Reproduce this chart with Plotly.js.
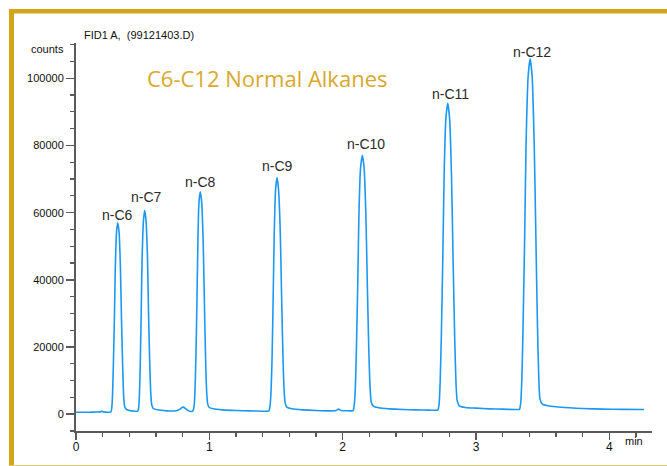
<!DOCTYPE html>
<html>
<head>
<meta charset="utf-8">
<script src="https://cdn.plot.ly/plotly-3.0.1.min.js"></script>
<style>
html,body{margin:0;padding:0;background:#fff;}
#chart{width:667px;height:466px;}
</style>
</head>
<body>
<div id="chart"></div>
<script>
// Retention time (min) and detector response (counts)
const timeMin = [
  0.000, 0.100, 0.150, 0.185, 0.195, 0.205, 0.250, 0.262,
  0.268, 0.274, 0.280, 0.288, 0.295, 0.304, 0.313, 0.323, 0.333, 0.341, 0.350, 0.357, 0.364, 0.375,
  0.400, 0.440, 0.460,
  0.465, 0.470, 0.476, 0.482, 0.489, 0.496, 0.506, 0.515, 0.525, 0.536, 0.544, 0.553, 0.561, 0.568, 0.580,
  0.610, 0.680, 0.750, 0.780, 0.795, 0.805, 0.820, 0.845, 0.860, 0.875,
  0.880, 0.886, 0.892, 0.899, 0.907, 0.914, 0.922, 0.932, 0.943, 0.954, 0.963, 0.972, 0.980, 0.988, 1.000,
  1.030, 1.100, 1.200, 1.300, 1.400, 1.445,
  1.450, 1.456, 1.463, 1.471, 1.479, 1.487, 1.497, 1.508, 1.519, 1.532, 1.542, 1.552, 1.561, 1.569, 1.582,
  1.620, 1.700, 1.800, 1.900, 1.950, 1.970, 1.990, 2.050, 2.075,
  2.080, 2.087, 2.095, 2.103, 2.113, 2.122, 2.134, 2.148, 2.161, 2.174, 2.185, 2.196, 2.206, 2.215, 2.230,
  2.270, 2.350, 2.450, 2.550, 2.650, 2.710,
  2.715, 2.723, 2.731, 2.740, 2.751, 2.761, 2.774, 2.788, 2.802, 2.816, 2.828, 2.840, 2.850, 2.859, 2.875,
  2.920, 3.000, 3.100, 3.200, 3.290, 3.320,
  3.326, 3.335, 3.344, 3.353, 3.365, 3.376, 3.391, 3.406, 3.421, 3.436, 3.449, 3.461, 3.471, 3.480, 3.497,
  3.530, 3.600, 3.700, 3.800, 3.950, 4.100, 4.260
];
const counts = [
  600, 600, 650, 700, 850, 700, 600, 650,
  1700, 5700, 14300, 28500, 43900, 54200, 57000, 54200, 43900, 28500, 14300, 5700, 2500, 1500,
  1100, 900, 900,
  1000, 1900, 6100, 15200, 30400, 46700, 57700, 60700, 57700, 46700, 30400, 15200, 6100, 2800, 1700,
  1300, 1000, 1000, 1500, 2000, 2100, 1700, 1000, 800, 900,
  1300, 2500, 6600, 16600, 33100, 51000, 62900, 66200, 62900, 51000, 33100, 16600, 6600, 3000, 2000,
  1600, 1300, 1100, 1000, 900, 900,
  1300, 2800, 7000, 17600, 35200, 54300, 66900, 70450, 66900, 54300, 35200, 17600, 7000, 3300, 2100,
  1600, 1300, 1100, 1000, 1100, 1500, 1100, 1000, 1000,
  1200, 2800, 7700, 19300, 38500, 59300, 73200, 77060, 73200, 59300, 38500, 19300, 7700, 3500, 2400,
  1900, 1600, 1400, 1300, 1200, 1200,
  1300, 3000, 9300, 23100, 46300, 71300, 88000, 92580, 88000, 71300, 46300, 23100, 9300, 4000, 2500,
  2000, 1800, 1600, 1500, 1400, 1400,
  1400, 3200, 10600, 26400, 52900, 81400, 100500, 105760, 100500, 81400, 52900, 26400, 10600, 4500, 3000,
  2600, 2200, 1900, 1700, 1500, 1450, 1400
];

// Peak labels
const peakNames = ["n-C6", "n-C7", "n-C8", "n-C9", "n-C10", "n-C11", "n-C12"];
const peakLabelTime = [0.312, 0.528, 0.936, 1.512, 2.175, 2.806, 3.419];
const peakLabelCounts = [59300, 64700, 69050, 73900, 80500, 95250, 107700];

const xTickVals = [0, 1, 2, 3, 4];
const yTickVals = [0, 20000, 40000, 60000, 80000, 100000];

const chartTitle = "C6-C12 Normal Alkanes";
const fileTitle = "FID1 A,  (99121403.D)";

// ---- layout geometry (pixels) ----
const W = 667, H = 466;
const M = {l: 76, r: 15, t: 43, b: 35};
const plotW = W - M.l - M.r, plotH = H - M.t - M.b;
const px2x = p => (p - M.l) / plotW;
const py2y = p => (H - M.b - p) / plotH;

const gold = "#D4A419";
const axisColor = "#5a5a5a";

const annotations = peakNames.map((n, i) => ({
  x: peakLabelTime[i], y: peakLabelCounts[i], xref: "x", yref: "y",
  text: n, showarrow: false, xanchor: "center", yanchor: "middle",
  font: {family: "Liberation Sans, Arial, sans-serif", size: 14, color: "#2a2a2a"}
}));
annotations.push({
  x: 1.43, y: 100000, xref: "x", yref: "y", text: chartTitle, showarrow: false,
  xanchor: "center", yanchor: "middle",
  font: {family: "Open Sans, sans-serif", size: 22, color: "#D9A82C"}
});
annotations.push({
  x: px2x(66), y: py2y(49), xref: "paper", yref: "paper", text: "counts", showarrow: false,
  xanchor: "right", yanchor: "middle",
  font: {family: "Liberation Sans, Arial, sans-serif", size: 11, color: "#111"}
});
annotations.push({
  x: px2x(634), y: py2y(441), xref: "paper", yref: "paper", text: "min", showarrow: false,
  xanchor: "center", yanchor: "middle",
  font: {family: "Liberation Sans, Arial, sans-serif", size: 11, color: "#111"}
});

const shapes = [
  {type: "rect", xref: "paper", yref: "paper", x0: px2x(9), x1: px2x(W + 2), y0: py2y(9), y1: py2y(13.5),
   fillcolor: gold, line: {width: 0}},
  {type: "rect", xref: "paper", yref: "paper", x0: px2x(9), x1: px2x(14), y0: py2y(9), y1: py2y(466),
   fillcolor: gold, line: {width: 0}},
  {type: "line", xref: "paper", yref: "paper", x0: px2x(9), x1: px2x(W + 2), y0: py2y(465.5), y1: py2y(465.5),
   line: {color: "#E3C577", width: 1.2}}
];

const trace = {
  x: timeMin, y: counts, type: "scatter", mode: "lines",
  line: {color: "rgb(28,152,242)", width: 1.6, shape: "spline", smoothing: 0.6},
  hoverinfo: "x+y"
};

const layout = {
  width: W, height: H,
  margin: M,
  paper_bgcolor: "#fff", plot_bgcolor: "#fff",
  showlegend: false,
  title: {
    text: fileTitle, x: 84 / W, xanchor: "left", xref: "container",
    y: 1 - 35.5 / H, yanchor: "middle", yref: "container",
    font: {family: "Liberation Sans, Arial, sans-serif", size: 11, color: "#111"}
  },
  xaxis: {
    range: [0, 4.32], tickvals: xTickVals, ticktext: xTickVals.map(String),
    showgrid: false, zeroline: false, showline: true, linecolor: axisColor, linewidth: 2,
    ticks: "outside", ticklen: 7, tickwidth: 1.5, tickcolor: axisColor,
    ticklabelstandoff: -3,
    minor: {dtick: 0.2, ticks: "outside", ticklen: 4, tickwidth: 1.2, tickcolor: axisColor, showgrid: false},
    tickfont: {family: "Liberation Sans, Arial, sans-serif", size: 12, color: "#111"},
    fixedrange: true
  },
  yaxis: {
    range: [-5000, 110500], tickvals: yTickVals, ticktext: yTickVals.map(String),
    showgrid: false, zeroline: false, showline: true, linecolor: axisColor, linewidth: 2,
    ticks: "outside", ticklen: 8, tickwidth: 1.5, tickcolor: axisColor,
    minor: {dtick: 5000, ticks: "outside", ticklen: 4, tickwidth: 1.2, tickcolor: axisColor, showgrid: false},
    tickfont: {family: "Liberation Sans, Arial, sans-serif", size: 11, color: "#111"},
    fixedrange: true
  },
  annotations: annotations,
  shapes: shapes
};

Plotly.newPlot("chart", [trace], layout, {displayModeBar: false, staticPlot: true});
</script>
</body>
</html>
